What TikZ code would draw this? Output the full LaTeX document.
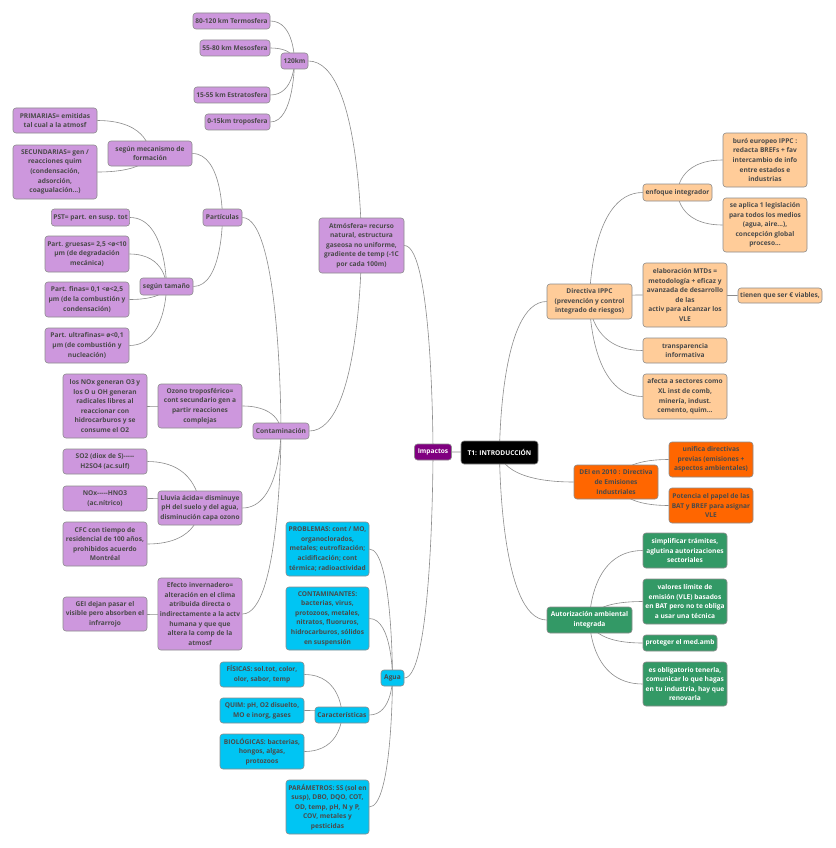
\documentclass[tikz,border=0pt]{standalone}
\usepackage{fontspec}
\setmainfont{Open Sans}
\usetikzlibrary{backgrounds}
\definecolor{purp}{HTML}{CD97DD}
\definecolor{impc}{HTML}{800080}
\definecolor{cyanc}{HTML}{00C5F3}
\definecolor{peach}{HTML}{FFCC99}
\definecolor{orng}{HTML}{FF6600}
\definecolor{grn}{HTML}{339966}
\definecolor{txtc}{HTML}{4A4A4A}
\definecolor{bordc}{HTML}{8C8C8C}
\newcommand\mmfont{\fontsize{6.6}{9.6}\selectfont\bfseries}
\newcommand\lconn[2]{\draw[conn] (#1.east) .. controls (#2.center |- #1.east) and (#2.center) .. (#2.center);}
\newcommand\rconn[2]{\draw[conn] (#1.west) .. controls (#2.center |- #1.west) and (#2.center) .. (#2.center);}
\tikzset{
  box/.style={draw=bordc, line width=0.6pt, rounded corners=3pt, align=center, inner sep=2pt, font=\mmfont, text=txtc},
  pbox/.style={box, fill=purp},
  cbox/.style={box, fill=cyanc},
  obox/.style={box, fill=peach},
  rbox/.style={box, fill=orng},
  gbox/.style={box, fill=grn, text=white},
  conn/.style={draw=bordc, line width=0.6pt},
  sz/.style 2 args={minimum width=#1pt, minimum height=#2pt}
}
\begin{document}
\begin{tikzpicture}[x=1pt, y=-1pt]
\useasboundingbox (0,0) rectangle (835,848);
% centre
\node[box, fill=black, text=white, sz={77}{23}] (t1) at (499.5,452.5) {T1: INTRODUCCIÓN};
\node[box, fill=impc, text=white, sz={37}{16}] (imp) at (433,452) {Impactos};
% atmosphere branch
\node[pbox, sz={77}{16}] (term) at (231.5,21) {80-120 km Termosfera};
\node[pbox, sz={70}{16}] (meso) at (235,48) {55-80 km Mesosfera};
\node[pbox, sz={76}{16}] (estr) at (232,95) {15-55 km Estratosfera};
\node[pbox, sz={65}{16}] (tropo) at (237.5,122) {0-15km troposfera};
\node[pbox, sz={27}{16}] (km) at (294.5,61) {120km};
\node[pbox, sz={85}{55}] (atm) at (361.5,245.5) {Atmósfera= recurso\\natural, estructura\\gaseosa no uniforme,\\gradiente de temp (-1C\\por cada 100m)};
\node[pbox, sz={84}{25}] (prim) at (55,120.5) {PRIMARIAS= emitidas\\tal cual a la atmosf};
\node[pbox, sz={84}{54}] (secu) at (55,172) {SECUNDARIAS= gen /\\reacciones quim\\(condensación,\\adsorción,\\coagualación...)};
\node[pbox, sz={84}{25}] (meca) at (150,153.5) {según mecanismo de\\formación};
\node[pbox, sz={39}{17}] (part) at (222.5,217.5) {Partículas};
\node[pbox, sz={77}{17}] (pst) at (90.5,217.5) {PST= part. en susp. tot};
\node[pbox, sz={84}{36}] (grue) at (87,254) {Part. gruesas= 2,5 <ø<10\\μm (de degradación\\mecánica)};
\node[pbox, sz={84}{35}] (fina) at (87,299.5) {Part. finas= 0,1 <ø<2,5\\μm (de la combustión y\\condensación)};
\node[pbox, sz={84}{35}] (ultra) at (87,345.5) {Part. ultrafinas= ø<0,1\\μm (de combustión y\\nucleación)};
\node[pbox, sz={53}{17}] (tam) at (166.5,286.5) {según tamaño};
\node[pbox, sz={56}{16}] (cont) at (281,431) {Contaminación};
\node[pbox, sz={84}{44}] (ozon) at (200,406) {Ozono troposférico=\\cont secundario gen a\\partir reacciones\\complejas};
\node[pbox, sz={84}{64}] (nox) at (105,406) {los NOx generan O3 y\\los O u OH generan\\radicales libres al\\reaccionar con\\hidrocarburos y se\\consume el O2};
\node[pbox, sz={84}{25}] (so2) at (105,461.5) {SO2 (diox de S)-{}-{}-{}-{}-\\H2SO4 (ac.sulf)};
\node[pbox, sz={84}{25}] (hno) at (105,498.5) {NOx-{}-{}-{}-{}-HNO3\\(ac.nítrico)};
\node[pbox, sz={84}{44}] (cfc) at (105,544) {CFC con tiempo de\\residencial de 100 años,\\prohibidos acuerdo\\Montréal};
\node[pbox, sz={84}{34}] (lluv) at (200,508) {Lluvia ácida= disminuye\\pH del suelo y del agua,\\disminución capa ozono};
\node[pbox, sz={84}{72}] (efec) at (200,614) {Efecto invernadero=\\alteración en el clima\\atribuida directa o\\indirectamente a la actv\\humana y que que\\altera la comp de la\\atmosf};
\node[pbox, sz={84}{34}] (gei) at (105,614) {GEI dejan pasar el\\visible pero absorben el\\infrarrojo};
% water branch
\node[cbox, sz={83}{54}] (prob) at (327.5,549) {PROBLEMAS: cont / MO,\\organoclorados,\\metales; eutrofización;\\acidificación; cont\\térmica; radioactividad};
\node[cbox, sz={83}{63}] (conta) at (327.5,618.5) {CONTAMINANTES:\\bacterias, virus,\\protozoos, metales,\\nitratos, fluoruros,\\hidrocarburos, sólidos\\en suspensión};
\node[cbox, sz={23}{16}] (agua) at (392.5,678) {Agua};
\node[cbox, sz={54}{16}] (cara) at (342,715) {Características};
\node[cbox, sz={84}{25}] (fis) at (262,674.5) {FÍSICAS: sol.tot, color,\\olor, sabor, temp};
\node[cbox, sz={84}{25}] (quim) at (262,710.5) {QUIM: pH, O2 disuelto,\\MO e inorg, gases};
\node[cbox, sz={84}{35}] (bio) at (262,751.5) {BIOLÓGICAS: bacterias,\\hongos, algas,\\protozoos};
\node[cbox, sz={83}{54}] (param) at (327.5,807) {PARÁMETROS: SS (sol en\\susp), DBO, DQO, COT,\\OD, temp, pH, N y P,\\COV, metales y\\pesticidas};
% IPPC branch
\node[obox, sz={85}{35}] (dipp) at (589.5,301.5) {Directiva IPPC\\(prevención y control\\integrado de riesgos)};
\node[obox, sz={69}{17}] (enfo) at (677.5,192.5) {enfoque integrador};
\node[obox, sz={84}{54}] (buro) at (765,160) {buró europeo IPPC :\\redacta BREFs + fav\\intercambio de info\\entre estados e\\industrias};
\node[obox, sz={84}{54}] (apli) at (765,225) {se aplica 1 legislación\\para todos los medios\\(agua, aire...),\\concepción global\\proceso...};
\node[obox, sz={84}{64}] (mtd) at (685,295) {elaboración MTDs =\\metodología + eficaz y\\avanzada de desarrollo\\de las\\activ para alcanzar los\\VLE};
\node[obox, sz={84}{15}] (viab) at (780,295.5) {tienen que ser € viables,};
\node[obox, sz={84}{25}] (trans) at (685,350.5) {transparencia\\informativa};
\node[obox, sz={84}{45}] (afec) at (685,396.5) {afecta a sectores como\\XL inst de comb,\\minería, indust.\\cemento, quim...};
% DEI branch
\node[rbox, sz={84}{34}] (dei) at (616,482) {DEI en 2010 : Directiva\\de Emisiones\\Industriales};
\node[rbox, sz={84}{35}] (unif) at (711,459.5) {unifica directivas\\previas (emisiones +\\aspectos ambientales)};
\node[rbox, sz={84}{35}] (pote) at (711,505.5) {Potencia el papel de las\\BAT y BREF para asignar\\VLE};
% AAI branch
\node[gbox, sz={85}{26}] (auto) at (589.5,620) {Autorización ambiental\\integrada};
\node[gbox, sz={84}{35}] (simp) at (685,550.5) {simplificar trámites,\\aglutina autorizaciones\\sectoriales};
\node[gbox, sz={84}{45}] (valo) at (685,601.5) {valores límite de\\emisión (VLE) basados\\en BAT pero no te obliga\\a usar una técnica};
\node[gbox, sz={74}{16}] (prot) at (680,643) {proteger el med.amb};
\node[gbox, sz={84}{44}] (obli) at (685,684) {es obligatorio tenerla,\\comunicar lo que hagas\\en tu industria, hay que\\renovarla};
% connectors
\begin{scope}[on background layer]
\fill[white] (0,0) rectangle (835,848);
\lconn{imp}{t1}
\lconn{atm}{imp}
\lconn{agua}{imp}
\lconn{km}{atm}
\lconn{cont}{atm}
\lconn{term}{km}
\lconn{meso}{km}
\lconn{estr}{km}
\lconn{tropo}{km}
\lconn{prim}{meca}
\lconn{secu}{meca}
\lconn{meca}{part}
\lconn{pst}{tam}
\lconn{grue}{tam}
\lconn{fina}{tam}
\lconn{ultra}{tam}
\lconn{tam}{part}
\lconn{part}{cont}
\lconn{nox}{ozon}
\lconn{ozon}{cont}
\lconn{so2}{lluv}
\lconn{hno}{lluv}
\lconn{cfc}{lluv}
\lconn{lluv}{cont}
\lconn{gei}{efec}
\lconn{efec}{cont}
\lconn{prob}{agua}
\lconn{conta}{agua}
\lconn{cara}{agua}
\lconn{param}{agua}
\lconn{fis}{cara}
\lconn{quim}{cara}
\lconn{bio}{cara}
\rconn{dipp}{t1}
\rconn{dei}{t1}
\rconn{auto}{t1}
\rconn{enfo}{dipp}
\rconn{mtd}{dipp}
\rconn{trans}{dipp}
\rconn{afec}{dipp}
\rconn{buro}{enfo}
\rconn{apli}{enfo}
\rconn{viab}{mtd}
\rconn{unif}{dei}
\rconn{pote}{dei}
\rconn{simp}{auto}
\rconn{valo}{auto}
\rconn{prot}{auto}
\rconn{obli}{auto}
\end{scope}
\end{tikzpicture}
\end{document}
